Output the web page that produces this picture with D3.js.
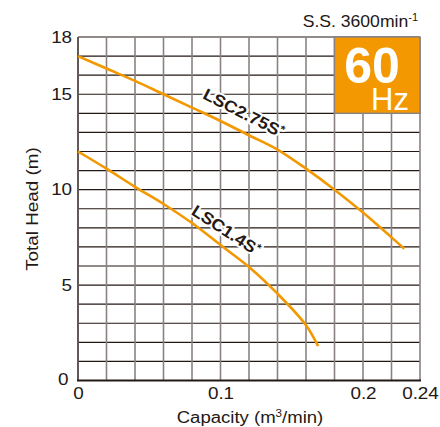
<!DOCTYPE html>
<html>
<head>
<meta charset="utf-8">
<script src="https://cdn.jsdelivr.net/npm/d3@7"></script>
<style>
  body { margin: 0; background: #fff; }
  svg { font-family: "Liberation Sans", Arial, sans-serif; }
</style>
</head>
<body>
<svg id="chart" width="440" height="427"></svg>
<script>
// Performance curves (capacity m3/min, head m)
const lsc14Q = [0, 0.02, 0.04, 0.06, 0.08, 0.10, 0.12, 0.14, 0.16, 0.1685];
const lsc14H = [12, 11.1, 10.15, 9.25, 8.25, 7.1, 5.95, 4.55, 2.9, 1.8];
const lsc275Q = [0, 0.02, 0.04, 0.06, 0.08, 0.10, 0.12, 0.14, 0.16, 0.18, 0.20, 0.22, 0.229];
const lsc275H = [17, 16.35, 15.7, 15.0, 14.3, 13.6, 12.85, 12.1, 11.1, 10.0, 8.8, 7.5, 6.9];
const xTicks = [0, 0.1, 0.2, 0.24];
const yTicks = [0, 5, 10, 15, 18];

const svg = d3.select("#chart");
const orange = "#f39800", ink = "#231815";
const stretch = 1.18; // the source font is wider than Liberation Sans

const x = d3.scaleLinear().domain([0, 0.24]).range([78, 420]);
const y = d3.scaleLinear().domain([0, 18]).range([380.5, 37]);

// grid
svg.append("g").selectAll("line")
    .data(d3.range(0, 19))
    .enter().append("line")
    .attr("x1", x(0)).attr("x2", x(0.24))
    .attr("y1", d => y(d)).attr("y2", d => y(d))
    .attr("stroke", ink).attr("stroke-width", 1.2);

svg.append("g").selectAll("line")
    .data(d3.range(0, 13).map(i => i * 0.02))
    .enter().append("line")
    .attr("x1", d => x(d)).attr("x2", d => x(d))
    .attr("y1", y(0)).attr("y2", y(18))
    .attr("stroke", "#8a8282").attr("stroke-width", 1.6);

// frame
svg.append("line").attr("x1", x(0)).attr("x2", x(0)).attr("y1", y(0)).attr("y2", y(18))
    .attr("stroke", "#5a5250").attr("stroke-width", 1.8);
svg.append("line").attr("x1", x(0) - 1).attr("x2", x(0.24) + 1).attr("y1", y(0)).attr("y2", y(0))
    .attr("stroke", ink).attr("stroke-width", 1.8);

// axes
const yAxis = svg.append("g")
    .attr("transform", `translate(${x(0)},0)`)
    .call(d3.axisLeft(y).tickValues(yTicks).tickSize(0).tickPadding(5));
const xAxis = svg.append("g")
    .attr("transform", `translate(0,${y(0)})`)
    .call(d3.axisBottom(x).tickValues(xTicks).tickSize(0).tickPadding(7)
        .tickFormat(d => d === 0 ? "0" : String(d)));
[yAxis, xAxis].forEach(g => {
    g.select(".domain").remove();
    g.selectAll("text").attr("font-size", 16).attr("fill", ink)
        .attr("font-family", "Liberation Sans, Arial, sans-serif")
        .attr("transform", `scale(${stretch},1)`);
});
yAxis.selectAll(".tick").filter(d => d === 0).select("text").attr("x", -8).attr("dy", "0.28em");

// stretched text helper
function label(tx, ty, angle, size, sx) {
    return svg.append("text")
        .attr("transform", `translate(${tx},${ty}) rotate(${angle}) scale(${sx},1)`)
        .attr("font-size", size).attr("fill", ink);
}

// axis titles
label(38, 209, -90, 16, 1.18).attr("text-anchor", "middle").text("Total Head (m)");

const xt = label(250, 423, 0, 16, 1.16).attr("text-anchor", "middle");
xt.append("tspan").text("Capacity (m");
xt.append("tspan").attr("font-size", 10).attr("dy", -6).text("3");
xt.append("tspan").attr("dy", 6).text("/min)");

// curves
const line = d3.line()
    .x(d => x(d[0])).y(d => y(d[1]))
    .curve(d3.curveCatmullRom.alpha(0.5));
[[lsc14Q, lsc14H], [lsc275Q, lsc275H]].forEach(([q, h]) => {
    svg.append("path")
        .datum(q.map((v, i) => [v, h[i]]))
        .attr("d", line)
        .attr("fill", "none")
        .attr("stroke", orange)
        .attr("stroke-width", 2.6);
});

// curve labels, with a white halo over the grid
function curveLabel(name, cx, cy, angle) {
    const t = label(cx, cy, angle, 16.5, 1.1)
        .attr("text-anchor", "middle")
        .attr("font-weight", "bold")
        .attr("stroke", "#fff").attr("stroke-width", 4)
        .attr("stroke-linejoin", "round")
        .attr("paint-order", "stroke");
    t.append("tspan").text(name);
    t.append("tspan").attr("font-size", 11).attr("dy", -5).text("*");
}
curveLabel("LSC2.75S", 241, 118, 27);
curveLabel("LSC1.4S", 223, 235, 33);

// 60 Hz badge
svg.append("rect")
    .attr("x", x(0.18)).attr("y", y(18))
    .attr("width", x(0.24) - x(0.18)).attr("height", y(14) - y(18))
    .attr("fill", orange).attr("stroke", "#8a8282").attr("stroke-width", 1.4);
const badge = svg.append("text").attr("fill", "#fff");
badge.append("tspan")
    .attr("x", 372).attr("y", 83)
    .attr("text-anchor", "middle")
    .attr("font-size", 50).attr("font-weight", "bold")
    .text("60");
badge.append("tspan")
    .attr("x", 409).attr("y", 110)
    .attr("text-anchor", "end")
    .attr("font-size", 31)
    .text("Hz");

// speed note
const ss = label(418, 27, 0, 16, 1.1).attr("text-anchor", "end");
ss.append("tspan").text("S.S. 3600min");
ss.append("tspan").attr("font-size", 10).attr("dy", -6).text("-1");
</script>
</body>
</html>
